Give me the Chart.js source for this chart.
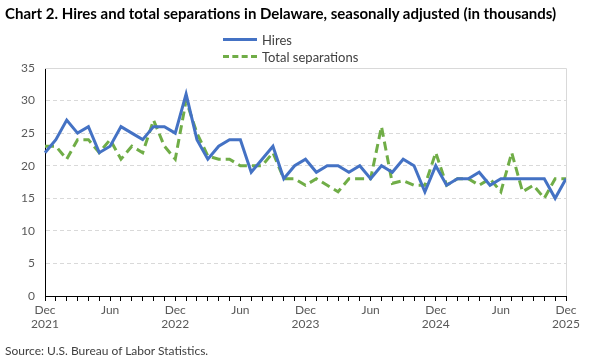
<!DOCTYPE html>
<html>
<head>
<meta charset="utf-8">
<script src="https://cdn.jsdelivr.net/npm/chart.js@4.4.1/dist/chart.umd.min.js"></script>
<style>
  html, body { margin: 0; padding: 0; background: #fff; }
  #wrap { position: relative; width: 600px; height: 360px; font-family: Lato, "Liberation Sans", sans-serif; }
  #chart { position: absolute; left: 0; top: 0; }
  #title { position: absolute; left: 5px; top: 4px; font-size: 15px; font-weight: bold; color: #000; white-space: nowrap; }
  #legend { position: absolute; left: 223px; top: 31px; font-size: 13px; color: #404040; }
  #legend .item { display: flex; align-items: center; height: 17px; }
  #legend .swatch { width: 34px; height: 0; margin-right: 5px; }
  #source { position: absolute; left: 5px; top: 343px; font-size: 12px; color: #404040; }
</style>
</head>
<body>
<div id="wrap">
  <canvas id="chart" width="600" height="360"></canvas>
  <div id="title">Chart 2. Hires and total separations in Delaware, seasonally adjusted (in thousands)</div>
  <div id="legend"></div>
  <div id="source">Source: U.S. Bureau of Labor Statistics.</div>
</div>
<script>
// months, Dec 2021 - Dec 2025
const categories = [
  'Dec 2021',
  'Jan 2022', 'Feb 2022', 'Mar 2022', 'Apr 2022', 'May 2022', 'Jun 2022', 'Jul 2022', 'Aug 2022', 'Sep 2022', 'Oct 2022', 'Nov 2022', 'Dec 2022',
  'Jan 2023', 'Feb 2023', 'Mar 2023', 'Apr 2023', 'May 2023', 'Jun 2023', 'Jul 2023', 'Aug 2023', 'Sep 2023', 'Oct 2023', 'Nov 2023', 'Dec 2023',
  'Jan 2024', 'Feb 2024', 'Mar 2024', 'Apr 2024', 'May 2024', 'Jun 2024', 'Jul 2024', 'Aug 2024', 'Sep 2024', 'Oct 2024', 'Nov 2024', 'Dec 2024',
  'Jan 2025', 'Feb 2025', 'Mar 2025', 'Apr 2025', 'May 2025', 'Jun 2025', 'Jul 2025', 'Aug 2025', 'Sep 2025', 'Oct 2025', 'Nov 2025', 'Dec 2025'
];

const hires = [
  22,
  24, 27, 25, 26, 22, 23, 26, 25, 24, 26, 26, 25,
  31, 24, 21, 23, 24, 24, 19, 21, 23, 18, 20, 21,
  19, 20, 20, 19, 20, 18, 20, 19, 21, 20, 16, 20,
  17, 18, 18, 19, 17, 18, 18, 18, 18, 18, 15, 18
];

const separations = [
  23,
  23, 21, 24, 24, 22, 24, 21, 23, 22, 27, 23, 21,
  30, 25, 21.5, 21, 21, 20, 20, 20, 22, 18, 18, 17,
  18, 17, 16, 18, 18, 18, 26, 17.3, 17.7, 17, 17, 22,
  17, 18, 18, 17, 18, 16, 22, 16, 17, 15, 18, 18
];

// only these months get a label on the x axis
const tickMonths = ['Dec', 'Jun'];
const yTicks = { min: 0, max: 35, step: 5 };

const textColor = '#595959';
const gridColor = '#d9d9d9';

// light frame on top and right of the plot area
const frame = {
  id: 'frame',
  afterDraw(chart) {
    const { ctx, chartArea: a } = chart;
    ctx.save();
    ctx.strokeStyle = gridColor;
    ctx.lineWidth = 1;
    ctx.beginPath();
    ctx.moveTo(a.left, a.top + 0.5);
    ctx.lineTo(a.right + 0.5, a.top + 0.5);
    ctx.lineTo(a.right + 0.5, a.bottom);
    ctx.stroke();
    ctx.restore();
  }
};

const ctx = document.getElementById('chart').getContext('2d');
const chart = new Chart(ctx, {
  type: 'line',
  data: {
    labels: categories,
    datasets: [{
      label: 'Hires',
      data: hires,
      borderColor: '#4472C4',
      borderWidth: 3,
      pointRadius: 0,
      tension: 0
    }, {
      label: 'Total separations',
      data: separations,
      borderColor: '#70AD47',
      borderWidth: 3,
      borderDash: [9, 5],
      pointRadius: 0,
      tension: 0
    }]
  },
  options: {
    responsive: false,
    animation: false,
    layout: { padding: { left: 0, right: 34, top: 68, bottom: 0 } },
    plugins: {
      legend: { display: false },
      title: { display: false },
      tooltip: { enabled: false }
    },
    scales: {
      x: {
        offset: false,
        grid: { drawOnChartArea: false, drawTicks: true, tickLength: 5, color: '#000' },
        border: { color: '#000', width: 1 },
        ticks: {
          autoSkip: false,
          maxRotation: 0,
          padding: 2,
          color: textColor,
          font: { family: 'Lato', size: 12 },
          callback: function (value) {
            const [m, y] = this.getLabelForValue(value).split(' ');
            if (m === 'Dec') return [m, y];
            if (tickMonths.includes(m)) return m;
            return '';
          }
        },
        afterFit: (s) => { s.height = 64; }
      },
      y: {
        min: yTicks.min,
        max: yTicks.max,
        grid: { drawTicks: false, color: gridColor },
        border: { color: '#000', width: 1, dash: [4, 3] },
        ticks: {
          stepSize: yTicks.step,
          padding: 10,
          color: textColor,
          font: { family: 'Lato', size: 12 }
        },
        afterFit: (s) => { s.width = 45; }
      }
    }
  },
  plugins: [frame]
});

// legend stacked in two rows, left aligned
const legend = document.getElementById('legend');
chart.data.datasets.forEach(function (ds) {
  const row = document.createElement('div');
  row.className = 'item';
  const sw = document.createElement('span');
  sw.className = 'swatch';
  sw.style.borderTop = '3px ' + (ds.borderDash ? 'dashed ' : 'solid ') + ds.borderColor;
  const label = document.createElement('span');
  label.textContent = ds.label;
  row.appendChild(sw);
  row.appendChild(label);
  legend.appendChild(row);
});
</script>
</body>
</html>
